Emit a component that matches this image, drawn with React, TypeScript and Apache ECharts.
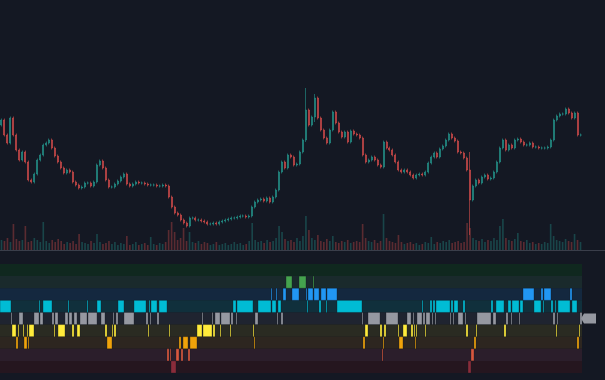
import React, { useEffect, useRef } from 'react';
import * as echarts from 'echarts';

// Close prices (arbitrary units), one per candle
const closes = [
  130, 115, 107, 132, 115, 100, 90, 98, 88, 70, 68, 76, 90, 95, 105, 107, 110, 102, 94, 88,
  82, 77, 80, 78, 68, 65, 62, 63, 67, 67, 64, 68, 85, 89, 82, 70, 63, 63, 66, 69,
  73, 76, 66, 64, 66, 68, 67, 67, 66, 65, 65, 65, 64, 64, 65, 64, 53, 43, 37, 35,
  30, 27, 24, 32, 32, 30, 30, 29, 28, 26, 26, 27, 26, 28, 29, 30, 31, 32, 32, 33,
  34, 34, 33, 34, 43, 48, 50, 51, 49, 52, 48, 53, 60, 78, 88, 82, 95, 93, 85, 86,
  98, 110, 140, 125, 133, 152, 132, 120, 112, 107, 120, 138, 127, 118, 113, 118, 108, 119, 116, 115,
  112, 95, 88, 90, 93, 90, 85, 83, 108, 102, 100, 95, 88, 80, 78, 80, 78, 75, 72, 75,
  76, 75, 78, 87, 93, 97, 93, 101, 104, 110, 116, 112, 109, 98, 97, 92, 80, 50, 64, 70,
  67, 73, 75, 71, 72, 78, 88, 102, 110, 100, 105, 102, 110, 111, 108, 105, 105, 107, 103, 103,
  102, 102, 102, 103, 110, 130, 134, 136, 136, 141, 137, 132, 137, 115, 115,
];

// Volume (arbitrary units), one per candle
const volumes = [
  10, 9, 12, 8, 26, 11, 9, 10, 24, 8, 9, 12, 10, 8, 28, 9, 7, 10, 8, 11,
  9, 6, 8, 7, 9, 6, 16, 8, 7, 6, 9, 7, 16, 8, 6, 7, 9, 6, 8, 5,
  7, 6, 14, 5, 6, 8, 5, 6, 7, 5, 13, 6, 5, 7, 6, 8, 20, 28, 18, 10,
  12, 22, 9, 18, 8, 7, 9, 6, 8, 7, 5, 6, 8, 5, 6, 7, 5, 6, 8, 6,
  7, 5, 6, 9, 27, 10, 8, 9, 7, 10, 8, 9, 12, 24, 18, 11, 9, 10, 8, 12,
  9, 14, 34, 20, 12, 10, 15, 9, 8, 11, 9, 14, 8, 7, 9, 8, 10, 7, 8, 9,
  8, 26, 12, 9, 8, 10, 7, 9, 36, 12, 9, 8, 7, 15, 8, 6, 7, 8, 6, 7,
  5, 6, 8, 7, 13, 6, 8, 7, 9, 8, 10, 7, 8, 9, 7, 8, 27, 22, 12, 10,
  9, 11, 8, 10, 9, 12, 10, 24, 31, 12, 10, 9, 11, 17, 9, 8, 10, 7, 8, 6,
  7, 6, 8, 7, 26, 14, 10, 9, 8, 11, 9, 8, 16, 10, 8,
];

// Candles with wicks well beyond their bodies: [index, high, low]
const bigWicks = [
  [102, 162, 108],
  [105, 156, 128],
  [157, 98, 15],
];

const regimeNames = ['Strong Bull', 'Bull', 'Trend Up', 'Range Up', 'Neutral', 'Range Down', 'Trend Down', 'Bear', 'Crash'];
const regimeColors = ['#00c853', '#45a34e', '#2196f3', '#00bcd4', '#9598a1', '#ffeb3b', '#f0a30a', '#d9573f', '#8a2c3a'];
const bandColors = ['#10281f', '#1a2a2c', '#14283f', '#10303c', '#1f2430', '#2a2b22', '#2d2620', '#2b1e2b', '#25161f'];

// Regime runs: [start step, end step, regime index]
const regimeRuns = [
  [0, 11, 3], [11, 12, 4], [12, 16, 5], [16, 18, 6], [18, 19, 5], [19, 23, 4], [23, 24, 5], [24, 27, 6],
  [27, 28, 5], [28, 29, 6], [29, 34, 5], [34, 39, 4], [39, 40, 3], [40, 43, 4], [43, 52, 3], [52, 54, 4],
  [54, 55, 5], [55, 58, 4], [58, 65, 5], [65, 68, 4], [68, 69, 3], [69, 72, 4], [72, 74, 5], [74, 77, 4],
  [77, 80, 5], [80, 87, 4], [87, 88, 3], [88, 97, 4], [97, 101, 3], [101, 105, 4], [105, 107, 5], [107, 112, 6],
  [112, 113, 5], [113, 114, 4], [114, 116, 5], [116, 118, 4], [118, 124, 3], [124, 134, 4], [134, 146, 3], [146, 148, 4],
  [148, 149, 5], [149, 150, 3], [150, 151, 4], [151, 157, 3], [157, 159, 4], [159, 167, 3], [167, 169, 7], [169, 170, 5],
  [170, 171, 7], [171, 176, 8], [176, 179, 7], [179, 181, 6], [181, 183, 7], [183, 188, 6], [188, 190, 7], [190, 197, 6],
  [197, 202, 5], [202, 203, 4], [203, 212, 5], [212, 213, 4], [213, 215, 5], [215, 220, 4], [220, 221, 5], [221, 230, 4],
  [230, 231, 5], [231, 233, 4], [233, 236, 3], [236, 237, 4], [237, 253, 3], [253, 254, 5], [254, 255, 6], [255, 258, 4],
  [258, 271, 3], [271, 272, 2], [272, 276, 3], [276, 277, 2], [277, 278, 4], [278, 281, 3], [281, 283, 4], [283, 286, 2],
  [286, 292, 1], [292, 299, 2], [299, 306, 1], [306, 307, 2], [307, 308, 3], [308, 313, 2], [313, 314, 1], [314, 319, 2],
  [319, 321, 3], [321, 326, 2], [326, 327, 3], [327, 337, 2], [337, 362, 3], [362, 363, 4], [363, 365, 6], [365, 368, 5],
  [368, 380, 4], [380, 382, 5], [382, 383, 7], [383, 384, 6], [384, 386, 5], [386, 398, 4], [398, 399, 5], [399, 403, 6],
  [403, 407, 5], [407, 411, 4], [411, 413, 5], [413, 414, 4], [414, 415, 5], [415, 416, 6], [416, 417, 5], [417, 422, 4],
  [422, 423, 3], [423, 425, 4], [425, 426, 5], [426, 430, 4], [430, 432, 3], [432, 433, 4], [433, 435, 3], [435, 436, 4],
  [436, 450, 3], [450, 451, 4], [451, 453, 3], [453, 454, 4], [454, 458, 3], [458, 463, 4], [463, 465, 3], [465, 466, 4],
  [466, 468, 5], [468, 471, 8], [471, 474, 7], [474, 476, 6], [476, 477, 5], [477, 491, 4], [491, 493, 3], [493, 496, 4],
  [496, 504, 3], [504, 506, 5], [506, 508, 4], [508, 511, 3], [511, 512, 4], [512, 519, 3], [519, 520, 4], [520, 523, 3],
  [523, 534, 2], [534, 541, 3], [541, 543, 2], [543, 544, 3], [544, 551, 2], [551, 553, 3], [553, 555, 4], [555, 556, 3],
  [556, 557, 5], [557, 558, 4], [558, 570, 3], [570, 572, 2], [572, 577, 3], [577, 579, 6], [579, 580, 5], [580, 582, 4],
];

const totalSteps = 582;

export default function App() {
  const ref = useRef<HTMLDivElement>(null);

  useEffect(() => {
    if (!ref.current) return;
    const chart = echarts.init(ref.current, undefined, { renderer: 'svg' });

    const idx = closes.map((_, i) => String(i));
    const wickMap: Record<number, number[]> = {};
    bigWicks.forEach(([i, h, l]) => { wickMap[i] = [h, l]; });

    const candles = closes.map((c, i) => {
      const o = i === 0 ? 125 : closes[i - 1];
      let hi = Math.max(o, c) + 1.5;
      let lo = Math.min(o, c) - 1.5;
      if (wickMap[i]) { hi = wickMap[i][0]; lo = wickMap[i][1]; }
      return [o, c, lo, hi];
    });

    const volData = volumes.map((v, i) => {
      const o = i === 0 ? 125 : closes[i - 1];
      const up = closes[i] >= o;
      return {
        value: v,
        itemStyle: { color: up ? 'rgba(38,166,154,0.32)' : 'rgba(239,83,80,0.32)' },
      };
    });

    const last = regimeRuns[regimeRuns.length - 1];

    const option: any = {
      animation: false,
      backgroundColor: '#141823',
      grid: [
        { left: 0, right: 23, top: 0, height: 250 },
        { left: 0, right: 23, top: 200, height: 50 },
        { left: 0, right: 23, top: 264, height: 109 },
      ],
      xAxis: [
        { type: 'category', gridIndex: 0, data: idx, show: false },
        { type: 'category', gridIndex: 1, data: idx, show: false },
        { type: 'value', gridIndex: 2, min: 0, max: totalSteps, show: false },
      ],
      yAxis: [
        { type: 'value', gridIndex: 0, min: 0, max: 250, show: false },
        { type: 'value', gridIndex: 1, min: 0, max: 50, show: false },
        {
          type: 'category',
          gridIndex: 2,
          data: regimeNames,
          inverse: true,
          axisLine: { show: false },
          axisTick: { show: false },
          axisLabel: { show: false, interval: 0 },
          splitLine: { show: false },
          splitArea: { show: true, interval: 0, areaStyle: { color: bandColors } },
        },
      ],
      graphic: [
        {
          type: 'line',
          shape: { x1: 0, y1: 250.5, x2: 605, y2: 250.5 },
          style: { stroke: '#3a3e4a', lineWidth: 1 },
          z: 100,
        },
      ],
      series: [
        {
          type: 'bar',
          xAxisIndex: 1,
          yAxisIndex: 1,
          data: volData,
          barWidth: '55%',
        },
        {
          type: 'candlestick',
          xAxisIndex: 0,
          yAxisIndex: 0,
          data: candles,
          barWidth: '50%',
          itemStyle: {
            color: '#26a69a',
            color0: '#ef5350',
            borderColor: '#26a69a',
            borderColor0: '#ef5350',
            borderWidth: 0.8,
            opacity: 0.68,
          },
        },
        {
          type: 'custom',
          xAxisIndex: 2,
          yAxisIndex: 2,
          data: regimeRuns,
          encode: { x: [0, 1], y: 2 },
          renderItem: (params: any, api: any) => {
            const s = api.value(0);
            const e = api.value(1);
            const r = api.value(2);
            const p0 = api.coord([s, r]);
            const p1 = api.coord([e, r]);
            const h = api.size([0, 1])[1];
            return {
              type: 'rect',
              shape: { x: p0[0], y: p0[1] - h / 2, width: Math.max(p1[0] - p0[0], 1), height: h },
              style: { fill: regimeColors[r], stroke: 'rgba(20,24,35,0.55)', lineWidth: 0.6 },
            };
          },
        },
        {
          type: 'custom',
          xAxisIndex: 2,
          yAxisIndex: 2,
          clip: false,
          data: [[last[1], last[2]]],
          encode: { x: 0, y: 1 },
          renderItem: (params: any, api: any) => {
            const p = api.coord([api.value(0), api.value(1)]);
            const x = p[0];
            const y = p[1];
            return {
              type: 'polygon',
              shape: {
                points: [
                  [x - 1, y],
                  [x + 2, y - 5],
                  [x + 14, y - 5],
                  [x + 14, y + 5],
                  [x + 2, y + 5],
                ],
              },
              style: { fill: '#9598a1' },
            };
          },
        },
      ],
    };

    chart.setOption(option);
    return () => chart.dispose();
  }, []);

  return (
    <div
      ref={ref}
      style={{ position: 'fixed', left: 0, top: 0, width: 605, height: 380, background: '#141823' }}
    />
  );
}
